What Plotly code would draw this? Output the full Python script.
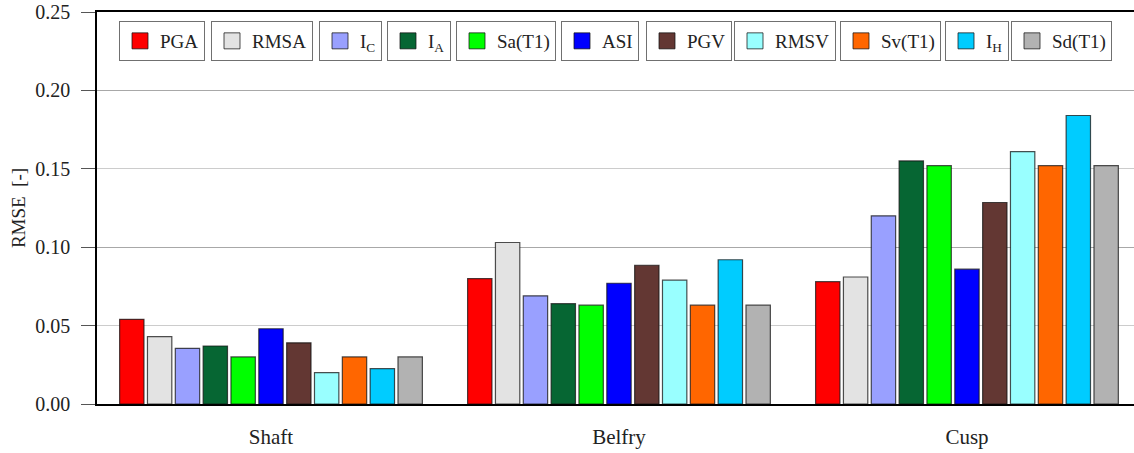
import plotly.graph_objects as go

categories = ["Shaft", "Belfry", "Cusp"]
series_names = ["PGA", "RMSA", "I<sub>C</sub>", "I<sub>A</sub>", "Sa(T1)", "ASI",
                "PGV", "RMSV", "Sv(T1)", "I<sub>H</sub>", "Sd(T1)"]
pga = [0.054, 0.080, 0.078]
rmsa = [0.043, 0.103, 0.081]
ic = [0.0355, 0.069, 0.120]
ia = [0.037, 0.064, 0.155]
sa_t1 = [0.030, 0.063, 0.152]
asi = [0.048, 0.077, 0.086]
pgv = [0.039, 0.0885, 0.1285]
rmsv = [0.020, 0.079, 0.161]
sv_t1 = [0.030, 0.063, 0.152]
ih = [0.0225, 0.092, 0.184]
sd_t1 = [0.030, 0.063, 0.152]
values = [pga, rmsa, ic, ia, sa_t1, asi, pgv, rmsv, sv_t1, ih, sd_t1]
colors = ["#FF0000", "#E3E3E3", "#99A0FF", "#066633", "#00FF00", "#0000FF",
          "#633733", "#99FFFF", "#FF6600", "#00CCFF", "#B2B2B2"]
y_ticks = [0.0, 0.05, 0.10, 0.15, 0.20, 0.25]
y_major = [0.10, 0.20]

# legend box left edges (pixels) -> converted to paper coords
legend_px = [119, 211, 319, 387, 456, 561, 646, 734, 840, 945, 1011]

W, H = 1134, 453
ML, MR, MT, MB = 97, 0, 12, 49
pw = W - ML - MR
ph = H - MT - MB

FONT = "Liberation Serif, Times New Roman, Tinos, serif"

fig = go.Figure()
for name, vals, col in zip(series_names, values, colors):
    fig.add_trace(go.Bar(
        x=categories, y=vals, name=name, showlegend=False,
        marker=dict(color=col, line=dict(color="rgba(20,20,20,0.75)", width=1.2)),
    ))

layout_legends = {}
for i, (name, col) in enumerate(zip(series_names, colors)):
    key = "legend" if i == 0 else f"legend{i+1}"
    fig.add_trace(go.Scatter(
        x=[None], y=[None], mode="markers", name=name, yaxis="y2",
        legend=key, showlegend=True,
        marker=dict(symbol="square", size=16, color=col,
                    line=dict(color="rgba(20,20,20,0.75)", width=1)),
    ))
    layout_legends[key] = dict(
        x=(legend_px[i] - ML) / pw, y=(H - MB - 21) / ph,
        xanchor="left", yanchor="top",
        bordercolor="#707070", borderwidth=1, bgcolor="white",
        font=dict(family=FONT, size=19, color="#222"),
        itemsizing="trace", itemwidth=30,
    )

fig.update_layout(
    width=W, height=H,
    margin=dict(l=ML, r=MR, t=MT, b=MB, autoexpand=False),
    plot_bgcolor="white", paper_bgcolor="white",
    barmode="group", bargap=0.12, bargroupgap=0.125,
    font=dict(family=FONT, size=20, color="#222"),
    xaxis=dict(
        type="category", range=[-0.5, 2.48],
        showline=True, linecolor="black", linewidth=1.5, mirror=True,
        ticks="", ticklabelstandoff=13,
        tickfont=dict(family=FONT, size=21, color="#222"),
        showgrid=False,
    ),
    yaxis=dict(
        range=[0, 0.25], tickvals=y_ticks, tickformat=".2f",
        showline=True, linecolor="black", linewidth=1.5,
        ticks="outside", ticklen=14, tickcolor="#555", tickwidth=1,
        ticklabelstandoff=7,
        showgrid=True, gridcolor="#CCCCCC", gridwidth=1.2,
        zeroline=False,
        tickfont=dict(family=FONT, size=20, color="#222"),
        title=dict(text="RMSE \u00a0[-]", standoff=5,
                   font=dict(family=FONT, size=19, color="#222")),
    ),
    yaxis2=dict(
        overlaying="y", range=[0, 0.25], tickvals=y_major,
        showticklabels=False, ticks="", showline=False,
        showgrid=True, gridcolor="#A8A8A8", gridwidth=1.2, zeroline=False,
    ),
    **layout_legends,
)

fig.write_html(
    "out.html",
    config={"displayModeBar": False},
    post_script="document.body.style.margin='0';document.body.style.padding='0';"
                "document.documentElement.style.overflow='hidden';",
)
